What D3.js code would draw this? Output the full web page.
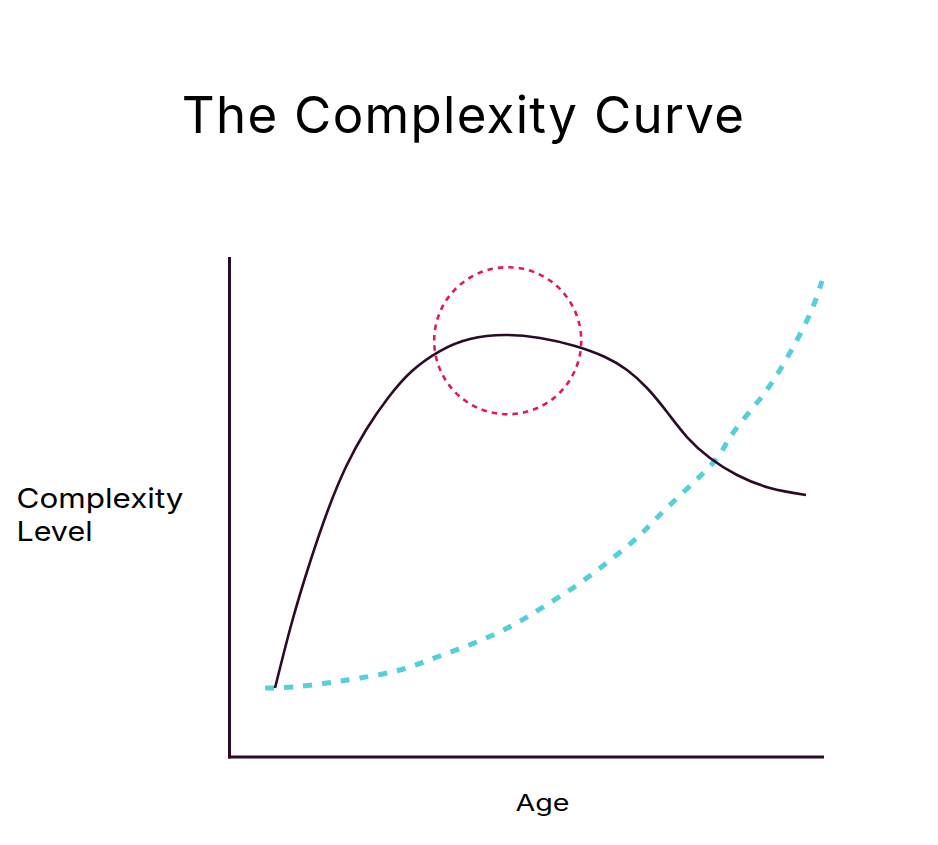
<!DOCTYPE html>
<html>
<head>
<meta charset="utf-8">
<script src="https://cdn.jsdelivr.net/npm/d3@7"></script>
<style>
  html, body { margin: 0; padding: 0; background: #ffffff; }
  svg { display: block; }
  text { font-family: Inter, "Noto Sans", sans-serif; fill: #000000; }
</style>
</head>
<body>
<svg id="chart" width="938" height="845"></svg>
<script>
// ---- Data (age 0–100, complexity 0–100) ----
const complexityAge = [7.76, 10.62, 13.66, 16.69, 19.73, 23.10, 26.81, 30.86, 35.58, 40.64, 46.54, 52.45, 58.35, 63.41, 67.12, 70.49, 73.86, 77.23, 81.11, 85.67, 91.23, 97.30];
const complexityValues = [13.74, 26.98, 38.97, 49.45, 58.12, 65.50, 71.92, 77.33, 81.34, 83.75, 84.55, 83.95, 82.35, 80.14, 77.53, 73.92, 69.11, 64.09, 59.88, 56.47, 53.86, 52.46];

const trendAge = [6.1, 10.8, 16.5, 22.1, 28.8, 35.1, 41.8, 47.9, 53.0, 58.7, 64.3, 69.3, 74.0, 81.6, 84.5, 89.0, 92.9, 97.5, 100];
const trendValues = [13.74, 13.94, 14.74, 15.75, 17.35, 19.96, 22.97, 26.38, 29.99, 34.40, 39.42, 44.43, 50.05, 58.88, 64.09, 70.91, 77.53, 87.56, 95.39];

const highlightCenter = [47.0, 83.4];   // [age, complexity]
const highlightRadius = [12.4];          // in age units

const titleText = "The Complexity Curve";
const xLabel = "Age";
const yLabelLines = ["Complexity", "Level"];

// ---- Layout ----
const svg = d3.select("#chart");
const x = d3.scaleLinear().domain([0, 100]).range([229, 822]);
const y = d3.scaleLinear().domain([0, 100]).range([756.5, 258]);

const ink = "#2b0b27";

// Axes (no ticks, just the domain lines)
svg.append("g")
  .attr("transform", `translate(0,${y(0)})`)
  .call(d3.axisBottom(x).ticks(0).tickSizeOuter(0));
svg.append("g")
  .attr("transform", `translate(${x(0)},0)`)
  .call(d3.axisLeft(y).ticks(0).tickSizeOuter(0));
svg.selectAll(".domain")
  .attr("stroke", ink)
  .attr("stroke-width", 3)
  .attr("stroke-linecap", "square");

// Trend (dashed cyan)
const trendData = trendAge.map((a, i) => [a, trendValues[i]]);
svg.append("path")
  .datum(trendData)
  .attr("fill", "none")
  .attr("stroke", "#56cfdc")
  .attr("stroke-width", 5)
  .attr("stroke-dasharray", "9,10")
  .attr("d", d3.line().x(d => x(d[0])).y(d => y(d[1])).curve(d3.curveNatural));

// Complexity curve (solid)
const compData = complexityAge.map((a, i) => [a, complexityValues[i]]);
svg.append("path")
  .datum(compData)
  .attr("fill", "none")
  .attr("stroke", ink)
  .attr("stroke-width", 2.6)
  .attr("d", d3.line().x(d => x(d[0])).y(d => y(d[1])).curve(d3.curveNatural));

// Highlight circle (dotted red)
svg.append("circle")
  .attr("cx", x(highlightCenter[0]))
  .attr("cy", y(highlightCenter[1]))
  .attr("r", x(highlightRadius[0]) - x(0))
  .attr("fill", "none")
  .attr("stroke", "#e2185b")
  .attr("stroke-width", 2.6)
  .attr("stroke-dasharray", "5.5,5");

// Title
svg.append("text")
  .attr("x", 463.5)
  .attr("y", 133)
  .attr("text-anchor", "middle")
  .attr("font-size", 51)
  .attr("letter-spacing", 1.3)
  .text(titleText);

// Axis labels
svg.append("text")
  .attr("x", 542.5)
  .attr("y", 811)
  .attr("text-anchor", "middle")
  .attr("font-size", 23)
  .attr("textLength", 54)
  .attr("lengthAdjust", "spacingAndGlyphs")
  .text(xLabel);

const yLabelLengths = [167, 76];
const yl = svg.append("text")
  .attr("font-size", 27.5);
yl.selectAll("tspan")
  .data(yLabelLines)
  .join("tspan")
  .attr("x", 16.5)
  .attr("y", (d, i) => 507.5 + i * 33.5)
  .attr("textLength", (d, i) => yLabelLengths[i])
  .attr("lengthAdjust", "spacingAndGlyphs")
  .text(d => d);
</script>
</body>
</html>
